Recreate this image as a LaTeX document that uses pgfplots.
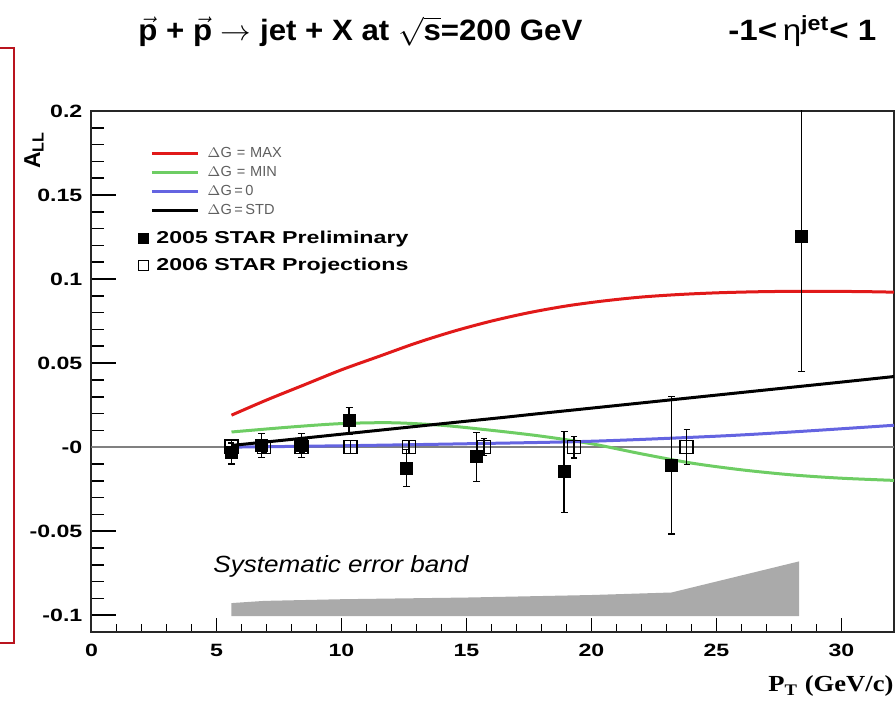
\documentclass[border=0pt]{standalone}
\usepackage{pgfplots}
\pgfplotsset{compat=1.18}
\usepackage{amsmath}
\usepackage{graphicx}
\usepackage{fontspec}
\setmainfont{Liberation Sans}
\newfontfamily\serifb{Liberation Serif}
\definecolor{dred}{RGB}{185,20,30}
\definecolor{cred}{RGB}{225,25,25}
\definecolor{cgreen}{RGB}{110,205,100}
\definecolor{cblue}{RGB}{100,100,225}
\definecolor{cband}{RGB}{170,170,170}
\definecolor{legtext}{RGB}{95,95,95}

\pgfplotstableread{
x     y        e
5.6   -0.003   0.007
6.8    0.001   0.007
8.4    0.001   0.007
10.3   0.0157  0.008
12.6  -0.0125  0.011
15.4  -0.0058  0.0145
18.9  -0.0147  0.024
23.2  -0.0107  0.041
28.4   0.1254  0.0805
}\prelim

\pgfplotstableread{
x     y        e
5.6    0.0005  0.002
6.9    0.0     0.003
8.4    0.0     0.003
10.35  0.0     0.004
12.7   0.0     0.004
15.7   0.0     0.005
19.3   0.0     0.0065
23.8   0.0     0.0105
}\proj

\begin{document}
\begin{tikzpicture}
\useasboundingbox (0,0) rectangle (448pt,350.5pt);
\begin{axis}[
  at={(45.75pt,34.5pt)}, anchor=south west,
  scale only axis, width=401.25pt, height=260.5pt,
  xmin=0, xmax=32.1, ymin=-0.11, ymax=0.2,
  axis line style={line width=1pt, black!85},
  xtick={0,5,...,30}, minor x tick num=4,
  ytick={-0.1,-0.05,0,0.05,0.1,0.15,0.2},
  yticklabels={-0.1,-0.05,-0,0.05,0.1,0.15,0.2},
  minor y tick num=4,
  xtick pos=bottom, ytick pos=left, tick align=inside,
  tick style={line width=0.8pt, black},
  xtick style={/pgfplots/major tick length=7pt,/pgfplots/minor tick length=4pt},
  ytick style={/pgfplots/major tick length=12pt,/pgfplots/minor tick length=6pt},
  /pgf/number format/assume math mode=true,
  ticklabel style={font=\bfseries\fontsize{8.9}{10}\selectfont, xscale=1.3},
  xticklabel style={yshift=-2.5pt},
  legend cell align=left,
  legend image code/.code={\draw[#1, line width=1.5pt] (0pt,0pt) -- (23pt,0pt);},
  legend style={at={(axis description cs:0.073,0.936)}, anchor=north west,
    draw=none, fill=none, inner sep=0pt, row sep=1pt,
    font=\fontsize{7.3}{8}\selectfont, text=legtext,
    nodes={inner sep=1pt, text height=5.5pt, text depth=1pt},
    /tikz/every odd column/.append style={column sep=3pt}},
]
\addplot[fill=cband, draw=none, forget plot] coordinates {
  (5.6,-0.0928) (6.9,-0.0915) (10,-0.0905) (15,-0.0895) (20,-0.088)
  (23.2,-0.0865) (28.3,-0.068) (28.3,-0.1005) (5.6,-0.1005)} -- cycle;
\addplot[black!50, line width=0.9pt, forget plot] coordinates {(0,0) (32.1,0)};

\addplot[cred, line width=1.5pt, smooth] coordinates {
  (5.6,0.019) (7,0.028) (8.5,0.037) (10,0.046) (11.5,0.054) (13,0.062)
  (14.5,0.069) (16,0.075) (17.5,0.080) (19,0.084) (20.5,0.087) (22,0.0893)
  (23.5,0.0908) (25,0.0918) (26.5,0.0924) (28,0.0927) (29.5,0.0927)
  (31,0.0925) (32.1,0.0922)};
\addlegendentry{$\Delta$G\,\,=\,\,MAX}
\addplot[cgreen, line width=1.5pt, smooth] coordinates {
  (5.6,0.009) (8,0.012) (10,0.014) (12,0.0145) (14,0.013) (16,0.010)
  (18,0.0065) (20,0.002) (22,-0.004) (24,-0.0095) (26,-0.0135)
  (28,-0.0165) (30,-0.0185) (32.1,-0.0198)};
\addlegendentry{$\Delta$G\,\,=\,\,MIN}
\addplot[cblue, line width=1.5pt, smooth] coordinates {
  (5.6,0.0) (10,0.0008) (15,0.002) (20,0.0035) (25,0.0065) (28,0.009) (32.1,0.013)};
\addlegendentry{$\Delta$G\,=\,0}
\addplot[black, line width=1.5pt, smooth] coordinates {
  (5.6,0.001) (8,0.0046) (10,0.0077) (12,0.0108) (14,0.0139) (16.3,0.0174)
  (18,0.0201) (20,0.0232) (22,0.0263) (24,0.0294) (26,0.0325)
  (28,0.0356) (30,0.0387) (32.1,0.042)};
\addlegendentry{$\Delta$G\,=\,STD}

\addplot[black, only marks, mark=square*, mark size=3pt, forget plot,
  error bars/.cd, y dir=both, y explicit,
  error bar style={line width=0.6pt, black},
  error mark options={black, line width=0.6pt, mark size=1.75pt, rotate=90}]
  table[x=x, y=y, y error=e] {\prelim};
\addplot[black, only marks, mark=square, mark size=3.25pt, forget plot,
  mark options={fill=white, line width=0.8pt},
  error bars/.cd, y dir=both, y explicit,
  error bar style={line width=0.6pt, black},
  error mark options={black, line width=0.6pt, mark size=1.5pt, rotate=90}]
  table[x=x, y=y, y error=e] {\proj};
\end{axis}

\begin{axis}[
  at={(45.75pt,34.5pt)}, anchor=south west,
  scale only axis, width=401.25pt, height=260.5pt,
  xmin=0, xmax=32.1, ymin=-0.11, ymax=0.2, hide axis,
  legend cell align=left,
  legend image code/.code={\draw[#1] plot coordinates {(3pt,0pt)};},
  legend style={at={(axis description cs:0.058,0.777)}, anchor=north west,
    draw=none, fill=none, inner sep=0pt, row sep=2.5pt,
    nodes={inner sep=1pt, text height=7pt, text depth=2pt},
    /tikz/every odd column/.append style={column sep=3pt}},
]
\addlegendimage{only marks, mark=square*, mark size=2.5pt, black}
\addlegendentry{\resizebox{126pt}{\height}{\bfseries\fontsize{8.6}{10}\selectfont 2005 STAR Preliminary}}
\addlegendimage{only marks, mark=square, mark size=2.5pt, black, line width=0.8pt}
\addlegendentry{\resizebox{126pt}{\height}{\bfseries\fontsize{8.6}{10}\selectfont 2006 STAR Projections}}
\end{axis}

\begin{scope}[x=0.5pt, y=-0.5pt, shift={(0pt,350.5pt)}]
  \draw[dred, line width=1pt] (0,48) -- (14,48) -- (14,643) -- (0,643);
  \node[anchor=base west, inner sep=0pt] at (138,41)
    {\resizebox{222pt}{\height}{\bfseries\fontsize{14.7}{16}\selectfont
      $\vec{\text{p}}$ + $\vec{\text{p}}$ $\rightarrow$ jet + X at $\sqrt{\text{s}}$=200 GeV}};
  \node[anchor=base west, inner sep=0pt] at (728,41)
    {\resizebox{74pt}{\height}{\bfseries\fontsize{14.7}{16}\selectfont
      -1<\,{\mdseries η}\textsuperscript{jet}< 1}};
  \node[rotate=90, inner sep=0pt] at (34,150)
    {\bfseries\fontsize{11.5}{12}\selectfont A\textsubscript{LL}};
  \node[anchor=base west, inner sep=0pt] at (768,692)
    {\resizebox{62.5pt}{\height}{\serifb\bfseries\fontsize{11.5}{13}\selectfont P\textsubscript{T} (GeV/c)}};
  \node[anchor=base west, inner sep=0pt] at (213,573)
    {\resizebox{127.5pt}{\height}{\itshape\fontsize{11.7}{13}\selectfont Systematic error band}};
\end{scope}
\end{tikzpicture}
\end{document}
